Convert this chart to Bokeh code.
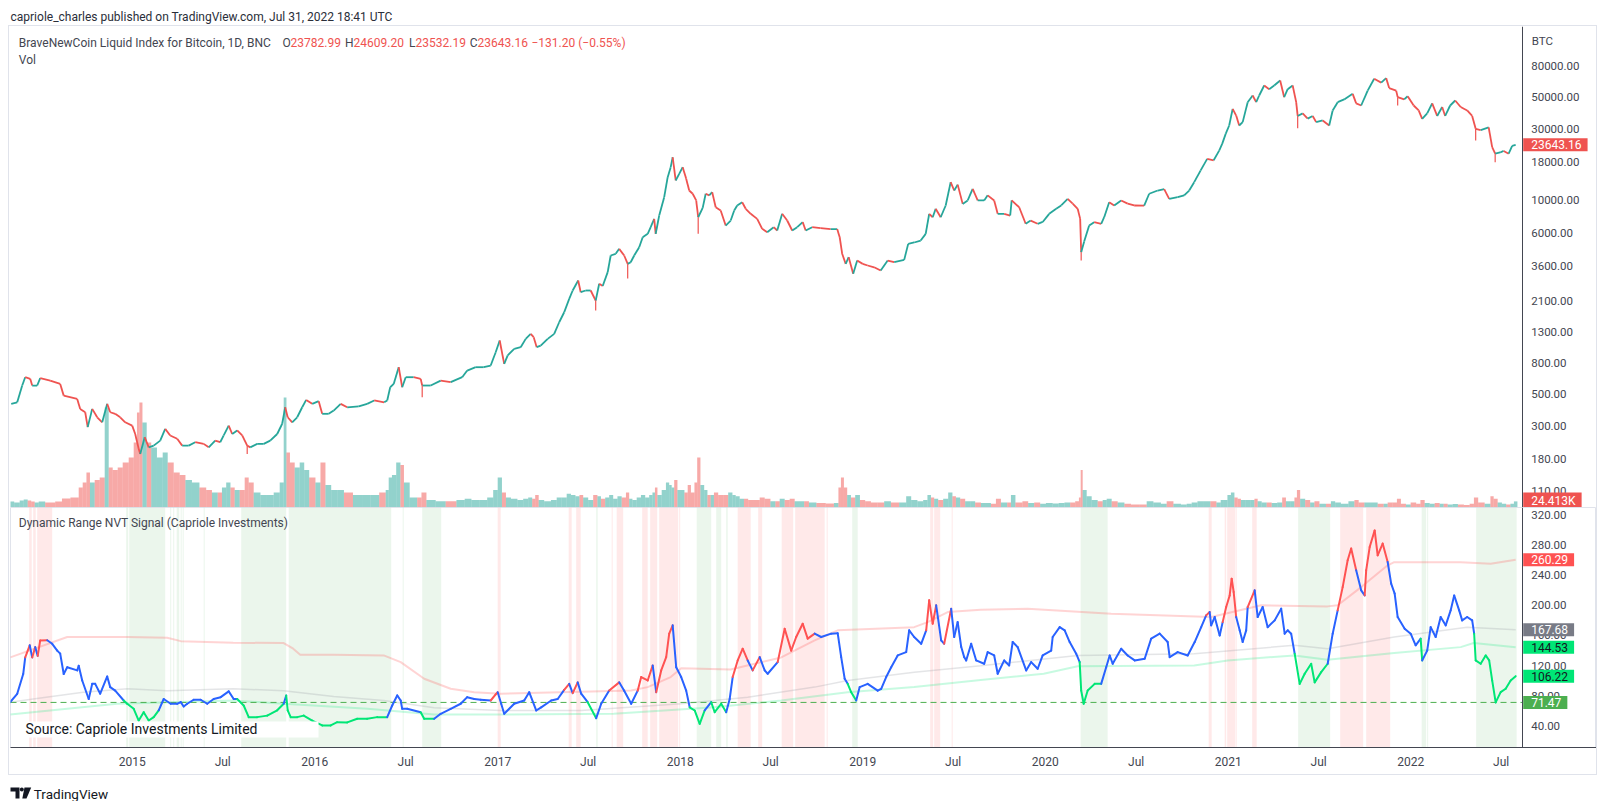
import numpy as np
import pandas as pd
from bokeh.plotting import figure
from bokeh.layouts import column
from bokeh.models import (Range1d, LinearScale, FixedTicker, NumeralTickFormatter, LogAxis, LinearAxis,
                          CustomJSTickFormatter, Label, BoxAnnotation, ColumnDataSource)
from bokeh.embed import file_html
from bokeh.resources import INLINE

# ---------------- DATA ----------------
PRICE_DATES = [
 "2014-05-04","2014-05-16","2014-05-26","2014-06-01","2014-06-11","2014-06-15","2014-06-25","2014-07-01","2014-07-21","2014-08-10","2014-08-17","2014-09-13","2014-09-19","2014-09-29","2014-10-04","2014-10-13","2014-10-23","2014-11-02","2014-11-12","2014-11-18","2014-11-28","2014-12-08","2014-12-18",
 "2015-01-01","2015-01-07","2015-01-14","2015-01-17","2015-01-26","2015-02-03","2015-02-13","2015-02-26","2015-03-08","2015-03-18","2015-04-01","2015-04-11","2015-04-24","2015-05-07","2015-05-24","2015-06-03","2015-06-16","2015-06-26","2015-07-03","2015-07-13","2015-07-20","2015-07-30","2015-08-09","2015-08-19","2015-08-25","2015-09-08","2015-09-21","2015-10-04","2015-10-18","2015-10-28","2015-11-03","2015-11-08","2015-11-17","2015-11-27","2015-12-07","2015-12-15","2015-12-27",
 "2016-01-09","2016-01-16","2016-01-29","2016-02-08","2016-02-22","2016-03-06","2016-03-29","2016-04-15","2016-04-29","2016-05-19","2016-05-25","2016-05-31","2016-06-07","2016-06-17","2016-06-24","2016-07-01","2016-07-17","2016-07-31","2016-08-03","2016-08-20","2016-09-09","2016-09-29","2016-10-22","2016-11-01","2016-11-18","2016-12-04","2016-12-18","2016-12-28",
 "2017-01-05","2017-01-14","2017-01-21","2017-02-03","2017-02-16","2017-02-26","2017-03-08","2017-03-14","2017-03-20","2017-03-28","2017-04-11","2017-04-24","2017-05-04","2017-05-14","2017-05-24","2017-05-31","2017-06-11","2017-06-16","2017-06-26","2017-07-06","2017-07-16","2017-07-23","2017-07-30","2017-08-09","2017-08-15","2017-08-25","2017-09-01","2017-09-11","2017-09-18","2017-09-24","2017-10-01","2017-10-11","2017-10-18","2017-10-28","2017-11-03","2017-11-10","2017-11-13","2017-11-20","2017-11-30","2017-12-07","2017-12-13","2017-12-17","2017-12-23","2017-12-30",
 "2018-01-06","2018-01-13","2018-01-19","2018-01-26","2018-02-02","2018-02-06","2018-02-15","2018-02-21","2018-02-28","2018-03-06","2018-03-13","2018-03-23","2018-04-02","2018-04-12","2018-04-19","2018-04-25","2018-05-05","2018-05-12","2018-05-22","2018-06-04","2018-06-14","2018-06-24","2018-07-07","2018-07-14","2018-07-24","2018-08-03","2018-08-13","2018-08-23","2018-09-03","2018-09-09","2018-09-22","2018-10-09","2018-10-29","2018-11-11","2018-11-16","2018-11-21","2018-11-28","2018-12-04","2018-12-13","2018-12-21",
 "2019-01-01","2019-01-11","2019-01-24","2019-02-06","2019-02-20","2019-03-05","2019-03-25","2019-04-02","2019-04-14","2019-04-27","2019-05-07","2019-05-14","2019-05-21","2019-05-27","2019-06-06","2019-06-16","2019-06-26","2019-07-03","2019-07-10","2019-07-20","2019-07-30","2019-08-09","2019-08-19","2019-09-01","2019-09-08","2019-09-21","2019-09-28","2019-10-11","2019-10-23","2019-10-26","2019-11-10","2019-11-23","2019-12-03","2019-12-17","2019-12-27",
 "2020-01-09","2020-01-23","2020-02-02","2020-02-15","2020-02-25","2020-03-06","2020-03-11","2020-03-13","2020-03-19","2020-03-29","2020-04-08","2020-04-22","2020-04-28","2020-05-08","2020-05-18","2020-06-01","2020-06-14","2020-06-27","2020-07-17","2020-07-27","2020-08-13","2020-08-26","2020-09-05","2020-09-22","2020-10-05","2020-10-15","2020-10-25","2020-11-07","2020-11-20","2020-12-03","2020-12-14","2020-12-20","2020-12-27",
 "2021-01-03","2021-01-10","2021-01-17","2021-01-23","2021-01-30","2021-02-09","2021-02-19","2021-02-26","2021-03-04","2021-03-14","2021-03-24","2021-04-03","2021-04-15","2021-04-23","2021-04-30","2021-05-10","2021-05-17","2021-05-20","2021-05-30","2021-06-09","2021-06-19","2021-06-26","2021-07-09","2021-07-22","2021-07-29","2021-08-08","2021-08-21","2021-09-07","2021-09-14","2021-09-24","2021-10-07","2021-10-20","2021-11-03","2021-11-13","2021-11-19","2021-12-03","2021-12-06","2021-12-19","2021-12-26",
 "2022-01-07","2022-01-17","2022-01-24","2022-02-03","2022-02-13","2022-02-23","2022-03-05","2022-03-11","2022-03-21","2022-03-31","2022-04-11","2022-04-24","2022-05-04","2022-05-11","2022-05-21","2022-06-06","2022-06-13","2022-06-19","2022-06-29","2022-07-06","2022-07-16","2022-07-23","2022-07-30"]
PRICE_CLOSE = [
 426,436,566,644,628,566,566,634,611,580,484,460,394,374,297,394,346,320,426,374,365,346,320,
 304,267,212,196,254,217,223,241,289,261,248,223,223,235,229,217,241,235,261,304,267,282,261,223,217,229,229,241,267,313,404,346,320,346,404,453,426,
 444,365,365,384,426,404,410,426,449,436,449,551,580,752,551,644,644,628,566,566,611,596,644,714,752,752,772,949,
 1137,792,902,1000,1026,1167,1261,1197,1026,1052,1167,1261,1510,1763,2171,2470,2884,2406,2470,2470,2113,2742,2650,3283,4250,4363,4712,4250,3733,3830,4250,4831,5645,5944,6590,7500,5944,7904,10500,14320,16720,19500,13600,15070,
 16720,13970,11640,11070,9980,7690,8900,11070,10800,11350,8980,8540,6760,7310,8540,9230,9710,8770,8110,7500,6430,6100,6590,6260,8110,7310,6260,6590,7130,6260,6590,6500,6400,6400,5645,4363,3733,4140,3200,3930,
 3733,3640,3540,3365,3930,3830,3970,5090,5200,5360,5944,8110,7690,8770,7690,9230,13250,11640,12750,9460,9980,11940,9980,9980,10800,9980,8110,8110,7900,9980,8980,6950,7300,6950,7150,
 8110,8770,9230,10230,9500,8770,7500,4470,5280,6760,7130,6950,7700,9710,9230,9980,9500,9230,9200,11070,11640,11900,10230,10500,10800,11640,13250,15900,19000,18600,21600,24000,28000,
 31900,41300,37200,31900,33600,45800,50800,45800,50800,59300,56000,59300,64100,49500,56000,59300,45800,37000,38500,35500,37000,33600,34500,31900,40300,45800,47800,52100,45000,43500,54800,65800,62000,66500,57000,54800,49500,47800,50200,
 43500,40300,35400,38500,45000,37000,42500,37000,43500,47000,42500,40300,37000,30300,29700,31000,22800,20600,21000,21500,20600,23300,23643.16]
VOLUME_K = [
 24,20,28,32,28,24,20,24,20,24,36,40,80,100,140,100,110,120,400,160,150,160,180,
 200,260,380,420,340,260,240,200,220,180,140,130,110,100,80,70,60,60,80,100,80,70,70,120,100,60,50,50,60,100,440,220,180,160,180,150,120,
 100,180,90,70,70,60,50,50,50,60,70,120,130,180,170,100,40,40,60,30,25,25,30,35,30,30,40,70,
 120,60,40,35,30,35,40,35,50,30,25,30,40,40,55,50,45,50,40,30,50,45,35,40,50,35,45,40,60,35,30,40,50,40,50,60,80,50,70,100,90,80,110,70,
 70,60,90,60,100,200,90,70,50,50,60,50,50,60,50,45,35,35,30,30,40,35,25,25,35,30,35,25,25,25,20,18,16,18,80,120,80,50,40,50,
 30,25,20,20,25,20,20,45,30,25,30,50,40,35,30,35,60,45,40,35,25,25,20,18,18,15,35,20,20,50,20,25,18,20,15,
 18,16,18,20,20,25,40,150,70,45,30,25,30,35,25,20,15,12,12,25,20,15,25,15,12,15,20,25,25,25,20,30,30,
 50,60,40,35,30,30,30,35,25,20,20,18,20,40,25,25,40,70,35,30,20,25,15,15,25,20,15,25,30,20,20,20,15,15,20,20,35,15,12,
 20,15,30,18,15,18,15,15,12,14,12,10,15,40,20,15,45,35,20,15,12,15,24.413]
WICK_DATES = ["2015-08-19","2016-08-03","2017-07-16","2017-09-18","2018-02-06","2020-03-13","2021-05-20","2021-12-06","2022-05-11","2022-06-19"]
WICK_LOWS = [196, 472, 1810, 2980, 5944, 3930, 30600, 43500, 25300, 18060]
PRICE_TICKS = [110, 180, 300, 500, 800, 1300, 2100, 3600, 6000, 10000, 18000, 30000, 50000, 80000]

NVT_DATES = [
 "2014-05-02","2014-05-16","2014-05-28","2014-06-01","2014-06-10","2014-06-15","2014-06-21","2014-06-26","2014-07-01","2014-07-15","2014-07-25","2014-08-04","2014-08-10","2014-08-17","2014-08-24","2014-09-13","2014-09-16","2014-09-23","2014-10-06","2014-10-13","2014-10-19","2014-10-29","2014-11-12","2014-11-18","2014-11-28","2014-12-15","2014-12-22",
 "2015-01-04","2015-01-14","2015-01-24","2015-02-03","2015-02-13","2015-02-23","2015-03-05","2015-03-19","2015-04-01","2015-04-08","2015-04-14","2015-04-21","2015-05-04","2015-05-18","2015-05-31","2015-06-13","2015-06-27","2015-07-13","2015-07-23","2015-07-30","2015-08-12","2015-08-22","2015-09-08","2015-09-28","2015-10-18","2015-10-31","2015-11-05","2015-11-08","2015-11-14","2015-11-27","2015-12-10","2015-12-27",
 "2016-01-16","2016-02-02","2016-02-15","2016-03-06","2016-03-26","2016-04-15","2016-05-05","2016-05-25","2016-06-04","2016-06-14","2016-06-21","2016-06-24","2016-07-04","2016-07-31","2016-08-07","2016-08-27","2016-09-09","2016-09-29","2016-10-19","2016-11-01","2016-11-15","2016-11-28","2016-12-18","2016-12-28",
 "2017-01-01","2017-01-08","2017-01-14","2017-02-03","2017-02-23","2017-03-05","2017-03-19","2017-03-29","2017-04-18","2017-05-01","2017-05-14","2017-05-24","2017-05-31","2017-06-10","2017-06-17","2017-06-30","2017-07-17","2017-07-27","2017-08-12","2017-09-01","2017-09-11","2017-09-25","2017-10-08","2017-10-15","2017-10-28","2017-11-07","2017-11-14","2017-11-24","2017-12-04","2017-12-10","2017-12-17","2017-12-24",
 "2018-01-03","2018-01-13","2018-01-20","2018-01-30","2018-02-09","2018-02-19","2018-03-04","2018-03-11","2018-03-24","2018-04-03","2018-04-10","2018-04-16","2018-04-26","2018-05-06","2018-05-16","2018-05-26","2018-06-09","2018-06-19","2018-06-25","2018-07-15","2018-07-29","2018-08-11","2018-08-21","2018-09-03","2018-09-13","2018-09-27","2018-10-10","2018-10-30","2018-11-12","2018-11-19","2018-11-26","2018-12-02","2018-12-09","2018-12-19","2018-12-26",
 "2019-01-11","2019-01-31","2019-02-07","2019-02-17","2019-02-27","2019-03-12","2019-03-29","2019-04-04","2019-04-14","2019-04-28","2019-05-08","2019-05-14","2019-05-21","2019-05-28","2019-06-07","2019-06-13","2019-06-27","2019-07-03","2019-07-10","2019-07-17","2019-07-23","2019-07-27","2019-08-06","2019-08-16","2019-09-01","2019-09-08","2019-09-21","2019-09-28","2019-10-11","2019-10-21","2019-10-28","2019-11-07","2019-11-24","2019-12-04","2019-12-17","2019-12-27",
 "2020-01-13","2020-01-16","2020-01-30","2020-02-09","2020-02-19","2020-03-03","2020-03-10","2020-03-13","2020-03-18","2020-03-26","2020-04-09","2020-04-22","2020-05-02","2020-05-09","2020-05-15","2020-06-01","2020-06-14","2020-06-28","2020-07-18","2020-07-31","2020-08-17","2020-09-02","2020-09-06","2020-09-22","2020-10-12","2020-10-26","2020-11-08","2020-11-18","2020-11-25","2020-11-28","2020-12-05","2020-12-15","2020-12-21","2020-12-28",
 "2021-01-04","2021-01-08","2021-01-12","2021-01-17","2021-01-24","2021-01-30","2021-02-06","2021-02-09","2021-02-23","2021-03-01","2021-03-11","2021-03-21","2021-04-04","2021-04-17","2021-04-24","2021-04-30","2021-05-07","2021-05-14","2021-05-24","2021-06-03","2021-06-16","2021-06-23","2021-07-06","2021-07-19","2021-07-29","2021-08-08","2021-08-18","2021-08-28","2021-09-04","2021-09-14","2021-09-24","2021-10-01","2021-10-04","2021-10-11","2021-10-21","2021-10-27","2021-11-06","2021-11-16","2021-11-23","2021-11-30","2021-12-06","2021-12-20",
 "2022-01-01","2022-01-11","2022-01-21","2022-01-24","2022-02-03","2022-02-10","2022-02-20","2022-03-02","2022-03-12","2022-03-22","2022-03-29","2022-04-08","2022-04-14","2022-04-24","2022-05-04","2022-05-08","2022-05-11","2022-05-21","2022-05-31","2022-06-07","2022-06-13","2022-06-20","2022-06-30","2022-07-10","2022-07-20","2022-07-30"]
NVT_VALUES = [
 71.8,82.9,109,131,147,131,144.6,133,153.5,153.7,149,140,136,109,118,113.8,120,100.5,76,96,96,83,105.8,91.7,87,74,69.7,
 63,47.5,58.5,47.5,52,61,76,69.7,69.7,71.8,66,69.7,75,75,69.7,76,78.4,86,76,76,67.4,52,52,54,61,69.7,80.7,61,52,52,54,47.5,
 41,41,45.3,45,49.8,49.8,52,52,67.4,80.7,74,63,63,58.5,49.8,49.8,56.4,63,69.7,78.4,76,75,74,82,
 85,69.7,56.4,69.7,74,85,60.8,65,74,76,88,96,83.7,98,83,71.8,50.6,69.7,87.3,98,87,69.7,87,105,100.5,120.4,85,113.8,131.4,162.4,173.4,118,
 105,87,65,60.8,43.2,60.8,71.8,58.5,69.7,58.5,76,105,127,142.5,127,113.8,131.4,113.8,109.4,124.8,169,140,158,175.6,155.8,162.4,158,162.4,163,131.4,102.8,96,85,74,91.7,
 96,87,89.5,105,118,133.6,138,166.8,158,149,166.8,206.5,175.6,199.9,153.5,149,195.5,158,177.7,145,131.4,127,149,127,122.6,138,133.6,109.4,127,120.4,151.3,144.6,113.8,124.8,116,133.6,
 140,158,171,166.8,151.3,135.9,124.8,87.3,69.7,87.3,96,96,118,133.6,122.6,142.5,133.6,127,129.3,155.8,162.4,151.3,131.4,138,133.6,151.3,171,186.6,191,173.4,184.4,160,177.7,197.6,
 213,235.2,217.5,184.4,166.8,151.3,166.8,197.6,219.7,184.4,197.6,171,180,195.5,162.4,166.8,162.4,135.9,96,109.4,122.6,98,111.5,122.6,162.4,193.2,224,259.5,275,246.2,219.7,213,246.2,277,299,266,281.6,257.2,228.6,215.4,184.4,169,
 162.4,147,155.8,127,140,171,158,184.4,173.4,193.2,213,193.2,180,184.4,180,162.4,127,122.6,133.6,127,100.5,71.47,85,89.5,100.5,106.22]
# b = inside the range, r = above the upper band, g = below the lower band
NVT_STATE = list(
 "bbbbr" "brbrr" "bbbbb" "bbbbb" "bbbbb" "bg"
 "ggggg" "gbbbb" "bbbbb" "bbbbb" "ggggg" "gbggg" "gg"
 "ggggg" "gggbb" "bbbbg" "gbbbb" "bbbr"
 "rbbbb" "bbbbb" "brbrb" "bgbbr" "bbbrr" "rbrrr" "rb"
 "bbbgg" "gbggg" "bbrrr" "brbbb" "rrrrr" "rbbbb" "bbggb"
 "bbbbb" "bbbbb" "brrrb" "brbbb" "bbbbb" "bbbbb" "bbbbb" "b"
 "bbbbb" "bbggg" "ggbbb" "bbbbb" "bbbbb" "bbbrb" "bbbr"
 "rrrrb" "bbbrb" "bbbbb" "bbbgg" "ggggb" "brrrr" "bbrrr" "rrrbb" "bb"
 "bbbgb" "bbbbb" "bbbbb" "bgggg" "ggggg" "g")

UPPER_DATES = ["2014-05-02","2014-08-24","2014-12-22","2015-03-12","2015-04-08","2015-07-22","2015-10-31","2015-11-19","2015-12-03","2016-02-08","2016-05-18","2016-06-21","2016-08-07","2016-09-29","2016-11-15","2017-01-07","2017-06-17","2017-09-25","2017-10-28","2017-12-13","2018-01-03","2018-04-12","2018-07-22","2018-09-27","2018-11-12","2019-04-14","2019-05-11","2019-06-20","2019-08-25","2019-11-27","2020-05-12","2020-11-28","2021-03-08","2021-07-19","2021-08-08","2021-09-24","2021-11-16","2021-11-29","2022-04-11","2022-06-10","2022-07-30"]
UPPER_VALUES = [131,158,158,157,152.5,150.4,150,142.5,134.6,134.6,133.6,124.8,102.8,89.5,85,83,85.7,87.3,91.7,105,116.8,115,131,153.5,166.8,171,177.7,191,194,195.5,188.9,184.4,199.9,198.5,200,224,252.8,257,257,255,260.29]
MID_DATES = ["2014-05-02","2014-06-17","2014-09-25","2014-12-23","2015-03-12","2015-07-22","2015-10-31","2016-02-08","2016-05-18","2016-08-27","2017-01-07","2017-06-17","2018-01-03","2018-05-16","2018-09-27","2018-12-02","2019-04-14","2019-08-25","2020-03-06","2020-10-25","2021-05-13","2021-07-19","2021-11-29","2022-04-24","2022-07-30"]
MID_VALUES = [71.8,76,85,89.5,87,89.5,87,79.3,74,64.4,60.8,60.8,69.7,78.4,91.7,100.5,111.5,120,133.6,135.9,147,142.5,158,171,167.68]
LOWER_DATES = ["2014-05-02","2014-08-24","2014-12-02","2015-07-22","2015-10-31","2016-04-16","2016-08-27","2017-01-07","2017-08-21","2018-03-10","2018-07-22","2018-12-02","2019-04-14","2019-08-25","2019-12-29","2020-03-06","2020-10-25","2020-12-31","2021-05-13","2021-07-19","2021-11-29","2022-04-11","2022-05-07","2022-07-30"]
LOWER_VALUES = [55.5,63,69.7,74,69.7,63,55.5,55.5,56.4,65,74,85,91.7,101,109.4,119.4,120.4,127,133.6,128,136.7,144.6,150,144.53]
MIN_LINE = 71.47
NVT_TICKS = [40, 80, 120, 160, 200, 240, 280, 320]

RED_ZONE_START = ["2014-06-09","2014-06-17","2014-06-25","2017-01-01","2017-05-23","2017-06-07","2017-08-17","2017-08-27","2017-10-17","2017-11-02","2017-11-20","2017-12-30","2018-04-26","2018-06-06","2018-07-23","2018-08-19","2018-10-21","2019-05-16","2019-05-24","2019-06-28","2020-11-23","2020-12-25","2020-12-30","2021-01-16","2021-02-18","2021-08-13","2021-10-04"]
RED_ZONE_END   = ["2014-06-14","2014-06-22","2014-07-25","2017-01-07","2017-05-29","2017-06-16","2017-08-19","2017-09-09","2017-10-28","2017-11-16","2017-12-28","2018-01-01","2018-05-22","2018-06-14","2018-08-15","2018-10-17","2018-10-23","2019-05-22","2019-06-05","2019-06-30","2020-11-29","2020-12-28","2021-01-15","2021-01-18","2021-02-27","2021-09-28","2021-11-21"]
GREEN_ZONE_START = ["2014-12-20","2014-12-26","2015-03-18","2015-03-24","2015-03-31","2015-04-08","2015-04-12","2015-05-24","2015-08-07","2015-11-10","2016-06-25","2016-08-03","2017-07-17","2018-02-03","2018-03-14","2018-04-03","2018-12-11","2020-03-12","2021-05-21","2022-01-23","2022-02-03","2022-05-12"]
GREEN_ZONE_END   = ["2014-12-24","2015-03-08","2015-03-20","2015-03-26","2015-04-05","2015-04-10","2015-04-14","2015-05-26","2015-11-05","2016-06-02","2016-06-27","2016-09-10","2017-07-20","2018-03-04","2018-03-24","2018-04-06","2018-12-22","2020-05-05","2021-07-24","2022-02-01","2022-02-05","2022-08-01"]

# ---------------- STYLE ----------------
FONT = "Roboto"
TXT = "#131722"
AX_TXT = "#434651"
AX_LINE = "#434651"
UP, DOWN = "#26A69A", "#EF5350"
NVT_COL = {"b": "#2962FF", "r": "#FF5252", "g": "#00E676"}

def ms(s):
    return pd.Timestamp(s).value / 1e6

assert len(PRICE_DATES) == len(PRICE_CLOSE) == len(VOLUME_K)
assert len(NVT_DATES) == len(NVT_VALUES) == len(NVT_STATE)

W = 1587
X_START = ms("2014-05-02 14:00")   # left edge of the plot area
X_AXIS = ms("2022-08-12 02:00")    # where the price scale sits
X_END = ms("2023-01-07 16:00")     # right edge of the chart (end of the scale column)
x_range = Range1d(X_START, X_END)

def style_axis(ax, size="11.5px", standoff=9):
    ax.major_label_text_font = FONT
    ax.major_label_text_font_size = size
    ax.major_label_text_color = AX_TXT
    ax.major_tick_line_color = None
    ax.minor_tick_line_color = None
    ax.major_tick_out = 0
    ax.major_tick_in = 0
    ax.minor_tick_out = 0
    ax.minor_tick_in = 0
    ax.axis_line_color = AX_LINE
    ax.major_label_standoff = standoff

def tag(fig, y, text, bg, fg, y_range_name="default"):
    fig.add_layout(Label(x=X_AXIS, y=y, x_units="data", y_units="data", y_range_name=y_range_name,
                         text=text, text_font=FONT, text_font_size="12px", text_color=fg,
                         text_align="left", text_baseline="middle", x_offset=1,
                         background_fill_color=bg, background_fill_alpha=1.0,
                         padding=dict(left=8, right=6, top=2, bottom=2)))

def screen_label(fig, x, y, text, color=TXT, size="12px"):
    fig.add_layout(Label(x=x, y=y, x_units="screen", y_units="screen", text=text,
                         text_font=FONT, text_font_size=size, text_color=color,
                         text_align="left", text_baseline="middle"))

# ---------------- TOP PANEL: price + volume ----------------
top = figure(width=W, height=481, x_range=x_range, y_axis_type="log", y_range=Range1d(85.4, 148070),
             x_axis_location=None, y_axis_location=None, toolbar_location=None, output_backend="svg",
             min_border_left=1, min_border_right=0, min_border_top=0, min_border_bottom=0,
             outline_line_color=None)
top.extra_y_ranges = {"vol": Range1d(0, 481 * 4)}
top.extra_y_scales = {"vol": LinearScale()}
top.grid.visible = False
pax = LogAxis(fixed_location=X_AXIS, ticker=FixedTicker(ticks=PRICE_TICKS),
              formatter=NumeralTickFormatter(format="0.00"))
style_axis(pax)
top.add_layout(pax, "right")

pdates = pd.to_datetime(PRICE_DATES)
close = np.array(PRICE_CLOSE, dtype=float)
t = pdates.values.astype("datetime64[ms]").astype(np.int64).astype(float)
up = close[1:] >= close[:-1]
candle_col = np.concatenate([[UP], np.where(up, UP, DOWN)])
mids = (t[1:] + t[:-1]) / 2
vleft = np.concatenate([[t[0] - (t[1] - t[0]) / 2], mids])
vright = np.concatenate([mids, [t[-1] + (t[-1] - t[-2]) / 2]])
top.quad(left=vleft, right=vright, bottom=0, top=VOLUME_K, y_range_name="vol",
         fill_color=list(candle_col), fill_alpha=0.5, line_color=None)

seg = ColumnDataSource(dict(x0=t[:-1], y0=close[:-1], x1=t[1:], y1=close[1:], c=list(candle_col[1:])))
top.segment("x0", "y0", "x1", "y1", source=seg, line_color="c", line_width=1.8)

close_at = dict(zip(PRICE_DATES, PRICE_CLOSE))
col_at = dict(zip(PRICE_DATES, candle_col))
top.segment(x0=pd.to_datetime(WICK_DATES), y0=[close_at[d] for d in WICK_DATES],
            x1=pd.to_datetime(WICK_DATES), y1=WICK_LOWS,
            line_color=[col_at[d] for d in WICK_DATES], line_width=1.2)

# legend texts of the price pane
BASE_X, BASE_Y = 8.3, 464.7
screen_label(top, BASE_X, BASE_Y, "BraveNewCoin Liquid Index for Bitcoin, 1D, BNC", AX_TXT)
OHLC = [("O", "23782.99", 271.7, 8.1), ("H", "24609.20", 334.7, 8.4),
        ("L", "23532.19", 396.7, 6.4), ("C", "23643.16", 458.7, 7.7)]
for letter, val, off, lw in OHLC:
    screen_label(top, BASE_X + off - lw, BASE_Y, letter, AX_TXT)
    screen_label(top, BASE_X + off, BASE_Y, val, DOWN)
screen_label(top, BASE_X + 512.7, BASE_Y, "\u2212131.20 (\u22120.55%)", DOWN)
screen_label(top, BASE_X, BASE_Y - 16.7, "Vol", AX_TXT)
top.add_layout(Label(x=X_AXIS, y=466.3, x_units="data", y_units="screen", text="BTC", x_offset=9.5,
                     text_font=FONT, text_font_size="11.5px", text_color=AX_TXT,
                     text_align="left", text_baseline="middle"))
tag(top, PRICE_CLOSE[-1], f"{PRICE_CLOSE[-1]:.2f}", DOWN, "white")
tag(top, VOLUME_K[-1], f"{VOLUME_K[-1]:.3f}K", DOWN, "white", y_range_name="vol")

# ---------------- BOTTOM PANEL: NVT signal ----------------
bot = figure(width=W, height=267, x_range=x_range, y_range=Range1d(11.82, 329.3), x_axis_type="datetime",
             y_axis_location=None, toolbar_location=None, output_backend="svg",
             min_border_left=1, min_border_right=0, min_border_top=0, min_border_bottom=27,
             outline_line_color="#E0E3EB")
bot.grid.visible = False
nax = LinearAxis(fixed_location=X_AXIS, ticker=FixedTicker(ticks=NVT_TICKS),
                 formatter=NumeralTickFormatter(format="0.00"))
style_axis(nax)
bot.add_layout(nax, "right")
xb = bot.xaxis[0]
xb.ticker = FixedTicker(ticks=[ms(f"{y}-{m}-01") for y in range(2015, 2023) for m in ("01", "07")])
xb.formatter = CustomJSTickFormatter(code="""
const d = new Date(tick);
return d.getUTCMonth() == 0 ? String(d.getUTCFullYear()) : "Jul";
""")
style_axis(xb, size="12px", standoff=7)

for s, e in zip(RED_ZONE_START, RED_ZONE_END):
    bot.add_layout(BoxAnnotation(left=ms(s), right=ms(e), fill_color="#FF5252", fill_alpha=0.13,
                                 line_color=None, level="underlay"))
for s, e in zip(GREEN_ZONE_START, GREEN_ZONE_END):
    bot.add_layout(BoxAnnotation(left=ms(s), right=ms(e), fill_color="#4CAF50", fill_alpha=0.11,
                                 line_color=None, level="underlay"))

bot.line(pd.to_datetime(UPPER_DATES), UPPER_VALUES, line_color="#FF5252", line_alpha=0.25, line_width=2)
bot.line(pd.to_datetime(MID_DATES), MID_VALUES, line_color="#9598A1", line_alpha=0.25, line_width=1.5)
bot.line(pd.to_datetime(LOWER_DATES), LOWER_VALUES, line_color="#00E676", line_alpha=0.22, line_width=2)

bot.segment(x0=[X_START], y0=[MIN_LINE], x1=[X_AXIS], y1=[MIN_LINE],
            line_color="#4CAF50", line_dash="6 4", line_width=1)

nd = pd.to_datetime(NVT_DATES)
nv = np.array(NVT_VALUES, dtype=float)
bot.segment(x0=nd[:-1], y0=nv[:-1], x1=nd[1:], y1=nv[1:],
            line_color=[NVT_COL[s] for s in NVT_STATE[1:]], line_width=2, line_cap="round")

bot.add_layout(BoxAnnotation(left=10, right=308, bottom=10, top=26, left_units="screen", right_units="screen",
                             bottom_units="screen", top_units="screen", fill_color="white", fill_alpha=1.0,
                             line_color=None))
screen_label(bot, 15, 18.5, "Source: Capriole Investments Limited", TXT, "14px")
screen_label(bot, 8.3, 225, "Dynamic Range NVT Signal (Capriole Investments)", AX_TXT)

tag(bot, UPPER_VALUES[-1], f"{UPPER_VALUES[-1]:.2f}", "#FF5252", "white")
tag(bot, MID_VALUES[-1], f"{MID_VALUES[-1]:.2f}", "#787B86", "white")
tag(bot, LOWER_VALUES[-1], f"{LOWER_VALUES[-1]:.2f}", "#00E676", TXT)
tag(bot, NVT_VALUES[-1], f"{NVT_VALUES[-1]:.2f}", "#00E676", TXT)
tag(bot, MIN_LINE, f"{MIN_LINE:.2f}", "#4CAF50", "white")

# ---------------- header / footer strips ----------------
def strip(height):
    f = figure(width=1589, height=height, x_range=Range1d(0, 1589), y_range=Range1d(0, height),
               toolbar_location=None, output_backend="svg", min_border=0,
               x_axis_location=None, y_axis_location=None, outline_line_color=None)
    f.grid.visible = False
    return f

header = strip(17)
screen_label(header, 2, 9, "capriole_charles published on TradingView.com, Jul 31, 2022 18:41 UTC", "#2A2E39")

footer = strip(26)
footer.patches(xs=[[2, 11, 11, 7, 7, 2], [16, 22.7, 18, 13.8]], ys=[[14, 14, 3, 3, 10, 10], [14, 14, 3, 3]],
               fill_color=TXT, line_color=None)
footer.scatter(x=[13.3], y=[12], size=4, fill_color=TXT, line_color=None)
screen_label(footer, 25.3, 8, "TradingView", TXT, "13.5px")

inner = column(top, bot, styles={"border": "1px solid #E0E3EB"})
layout = column(header, inner, footer, margin=(8, 0, 0, 8))

open("out.html", "w").write(file_html(layout, INLINE, title="BTC Dynamic Range NVT Signal"))
